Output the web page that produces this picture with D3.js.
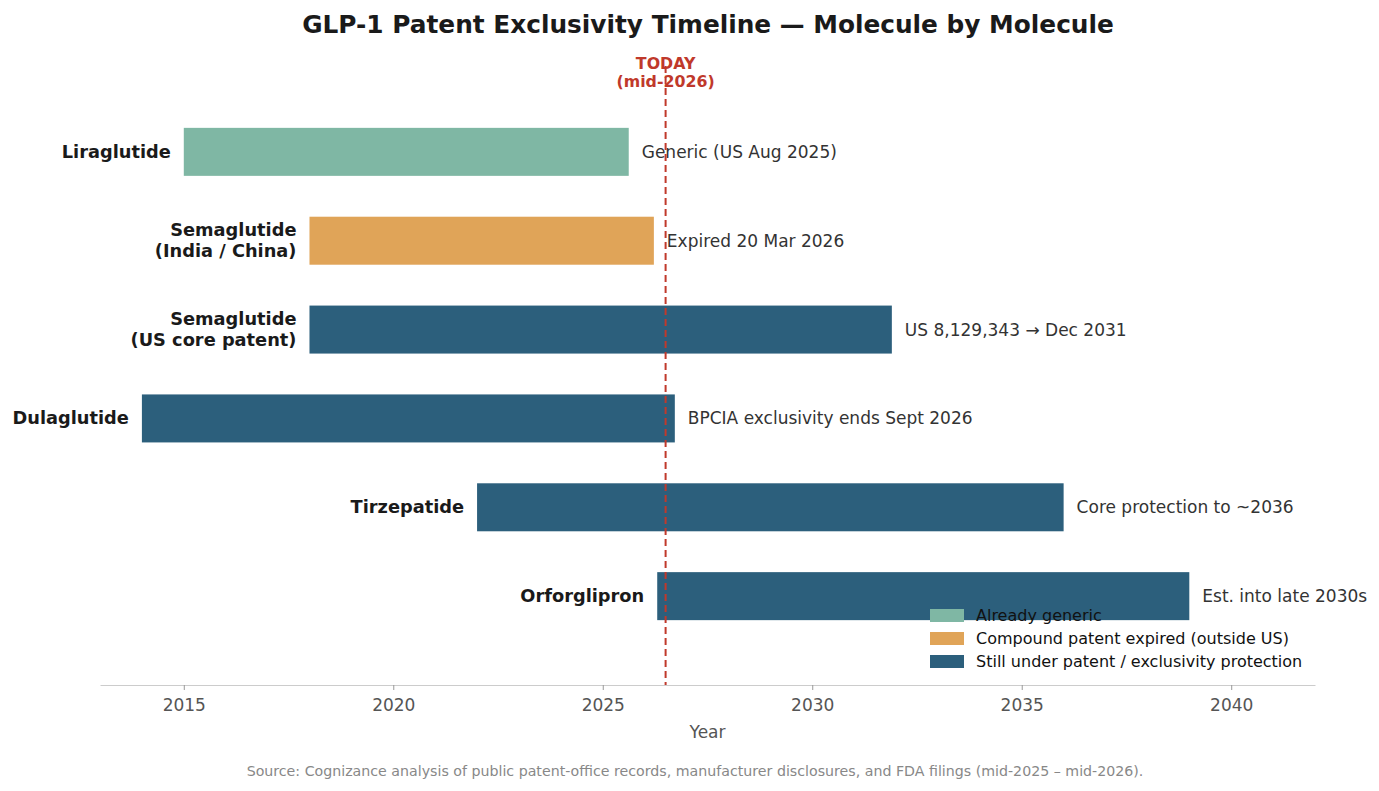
<!DOCTYPE html>
<html>
<head>
  <meta charset="UTF-8">
  <style>
    body { margin: 0; background: #fff; }
    text { font-family: "DejaVu Sans", sans-serif; }
  </style>
</head>
<body>
<svg></svg>
<script src="https://d3js.org/d3.v7.min.js"></script>
<script>
let width = 1379,
    height = 791;

// data
let molecules = ["Liraglutide", "Semaglutide\n(India / China)", "Semaglutide\n(US core patent)",
                 "Dulaglutide", "Tirzepatide", "Orforglipron"];
let startYear = [2015, 2018, 2018, 2014, 2022, 2026.3];
let endYear = [2025.62, 2026.22, 2031.9, 2026.72, 2036, 2039];
let status = ["generic", "expired", "protected", "protected", "protected", "protected"];
let notes = ["Generic (US Aug 2025)", "Expired 20 Mar 2026", "US 8,129,343 \u2192 Dec 2031",
             "BPCIA exclusivity ends Sept 2026", "Core protection to ~2036", "Est. into late 2030s"];
let xTicks = [2015, 2020, 2025, 2030, 2035, 2040];
let today = 2026.5;
let legendLabels = ["Already generic", "Compound patent expired (outside US)",
                    "Still under patent / exclusivity protection"];

let colorScale = d3.scaleOrdinal()
  .domain(["generic", "expired", "protected"])
  .range(["#7fb7a4", "#e0a458", "#2c5f7c"]);

let svg = d3.select("svg")
  .attr("width", width)
  .attr("height", height);

let plotLeft = 100, plotRight = 1315, plotTop = 63, plotBottom = 685;

let x = d3.scaleLinear().domain([2013, 2042]).range([plotLeft, plotRight]);
// rows from top (index 0) to bottom, with one extra unit of padding each side
let y = d3.scaleLinear().domain([-1, molecules.length]).range([plotTop, plotBottom]);
let barH = 48;

let rows = molecules.map((m, i) => ({
  name: m, start: startYear[i], end: endYear[i], status: status[i], note: notes[i], i: i
}));

// title
svg.append("text")
  .attr("x", 708)
  .attr("y", 33)
  .attr("text-anchor", "middle")
  .style("font-size", "24.8px")
  .style("font-weight", "bold")
  .style("fill", "#1a1a1a")
  .text("GLP-1 Patent Exclusivity Timeline \u2014 Molecule by Molecule");

// bars
svg.append("g")
  .selectAll("rect")
  .data(rows)
  .enter()
  .append("rect")
    .attr("x", d => x(d.start))
    .attr("y", d => y(d.i) - barH / 2)
    .attr("width", d => x(d.end) - x(d.start))
    .attr("height", barH)
    .style("fill", d => colorScale(d.status));

// molecule labels
let labels = svg.append("g")
  .selectAll("text")
  .data(rows)
  .enter()
  .append("text")
    .attr("text-anchor", "end")
    .style("font-size", "17.8px")
    .style("font-weight", "bold")
    .style("fill", "#1a1a1a");

labels.each(function(d) {
  let lines = d.name.split("\n");
  let t = d3.select(this);
  let y0 = y(d.i) + 6 - (lines.length - 1) * 10.5;
  lines.forEach((ln, k) => {
    t.append("tspan")
      .attr("x", x(d.start) - 13)
      .attr("y", y0 + k * 21)
      .text(ln);
  });
});

// notes at the end of each bar
svg.append("g")
  .selectAll("text")
  .data(rows)
  .enter()
  .append("text")
    .attr("x", d => x(d.end) + 13)
    .attr("y", d => y(d.i) + 6)
    .style("font-size", "17px")
    .style("fill", "#333")
    .text(d => d.note);

// x axis
let axis = svg.append("g")
  .attr("transform", "translate(0," + plotBottom + ")")
  .call(d3.axisBottom(x).tickValues(xTicks).tickFormat(d3.format("d"))
    .tickSize(5).tickSizeOuter(0).tickPadding(9));
axis.select(".domain").attr("stroke", "#cccccc");
axis.selectAll(".tick line").attr("stroke", "#999");
axis.selectAll(".tick text")
  .style("font-size", "17px")
  .style("fill", "#555")
  .style("font-family", "DejaVu Sans, sans-serif");

svg.append("text")
  .attr("x", (plotLeft + plotRight) / 2)
  .attr("y", 738)
  .attr("text-anchor", "middle")
  .style("font-size", "17px")
  .style("fill", "#555")
  .text("Year");

// today line
svg.append("line")
  .attr("x1", x(today))
  .attr("x2", x(today))
  .attr("y1", 66)
  .attr("y2", plotBottom)
  .attr("stroke", "#c0392b")
  .attr("stroke-width", 2)
  .attr("stroke-dasharray", "7,4");

let todayLabel = svg.append("text")
  .attr("text-anchor", "middle")
  .style("font-size", "15.8px")
  .style("font-weight", "bold")
  .style("fill", "#c0392b");
todayLabel.append("tspan").attr("x", x(today)).attr("y", 69).text("TODAY");
todayLabel.append("tspan").attr("x", x(today)).attr("y", 87).text("(mid-2026)");

// legend (no frame)
let legend = svg.append("g")
  .attr("transform", "translate(930,609)");
let legItems = legend.selectAll("g")
  .data(colorScale.domain())
  .enter()
  .append("g")
    .attr("transform", (d, i) => "translate(0," + i * 23 + ")");
legItems.append("rect")
  .attr("width", 34)
  .attr("height", 13)
  .style("fill", d => colorScale(d));
legItems.append("text")
  .attr("x", 46)
  .attr("y", 12)
  .style("font-size", "16px")
  .style("fill", "#111")
  .text((d, i) => legendLabels[i]);

// source
svg.append("text")
  .attr("x", 695)
  .attr("y", 776)
  .attr("text-anchor", "middle")
  .style("font-size", "14.2px")
  .style("fill", "#888")
  .text("Source: Cognizance analysis of public patent-office records, manufacturer disclosures, and FDA filings (mid-2025 \u2013 mid-2026).");
</script>
</body>
</html>
